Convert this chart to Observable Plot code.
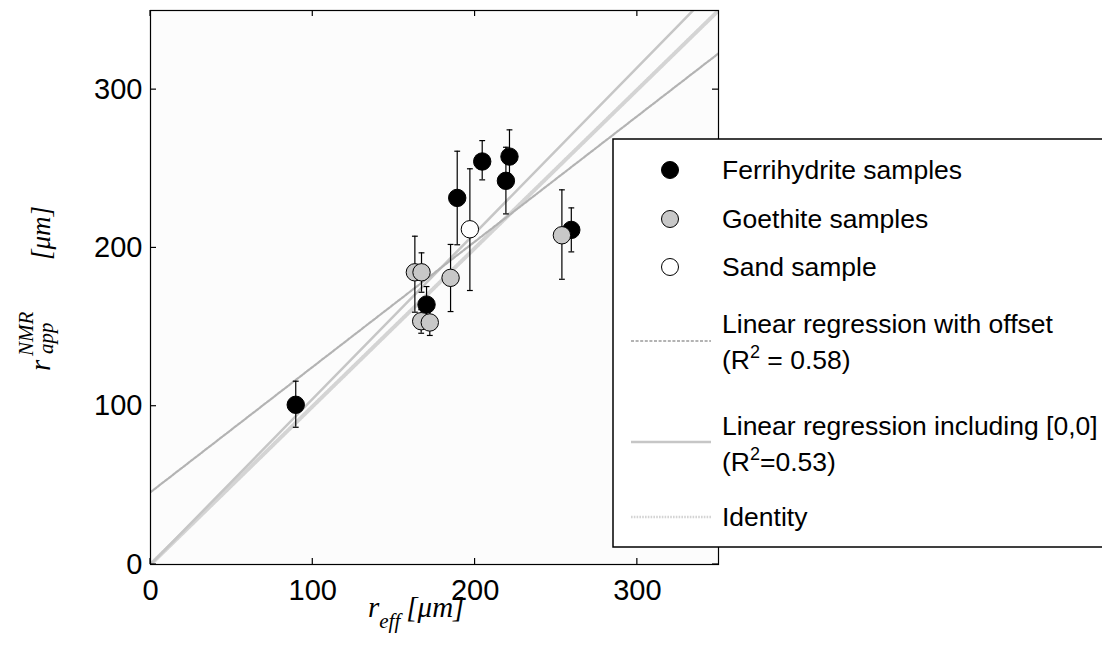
<!DOCTYPE html>
<html><head><meta charset="utf-8">
<script src="https://cdn.jsdelivr.net/npm/d3@7"></script>
<script src="https://cdn.jsdelivr.net/npm/@observablehq/plot@0.6"></script>
<style>
body{margin:0;background:#fff;}
#wrap{position:relative;width:1102px;height:671px;overflow:hidden;}
</style></head><body><div id="wrap"></div>
<script>
// Ferrihydrite samples (black)
const ferriX  = [89.5, 170.1, 189.0, 204.4, 219.0, 221.2, 259.3];
const ferriY  = [100.9, 164.2, 231.6, 254.6, 242.4, 257.7, 211.4];
const ferriLo = [86.7, 152.0, 202.0, 243.0, 221.5, 240.5, 197.5];
const ferriHi = [115.8, 175.6, 261.1, 267.8, 263.6, 274.6, 225.3];
// Goethite samples (grey)
const goeX  = [162.9, 167.0, 166.8, 172.1, 184.9, 253.5];
const goeY  = [184.6, 184.6, 153.7, 152.9, 181.1, 208.0];
const goeLo = [159.4, 172.0, 146.1, 144.7, 159.8, 180.2];
const goeHi = [207.4, 196.9, 161.0, 161.0, 202.2, 236.7];
// Sand sample (white)
const sandX  = [196.8];
const sandY  = [211.8];
const sandLo = [173.1];
const sandHi = [250.0];
// Fitted lines
const offsetIntercept = 45.7, offsetSlope = 0.792;   // R^2 = 0.58
const originSlope = 1.047;                          // R^2 = 0.53
const lineX = [0, 350];
const xTicks = [0, 100, 200, 300];
const yTicks = [0, 100, 200, 300];
const legendLabels = ["Ferrihydrite samples", "Goethite samples", "Sand sample",
  "Linear regression with offset", "Linear regression including [0,0]", "Identity"];

const rows = (X, Y, Lo, Hi, g) => X.map((x, i) => ({x, y: Y[i], lo: Lo[i], hi: Hi[i], g}));
const ferri = rows(ferriX, ferriY, ferriLo, ferriHi, "F");
const goe = rows(goeX, goeY, goeLo, goeHi, "G");
const sand = rows(sandX, sandY, sandLo, sandHi, "S");
const offsetLine = lineX.map(x => ({x, y: offsetIntercept + offsetSlope * x}));
const originLine = lineX.map(x => ({x, y: originSlope * x}));
const identLine = lineX.map(x => ({x, y: x}));

const capSymbol = {draw(ctx, size) { const w = Math.sqrt(size) / 2; ctx.moveTo(-w, 0); ctx.lineTo(w, 0); }};
const fillC = {F: "#000", G: "#c8c8c8", S: "#fff"};
const sty = {
  offset: {stroke: "#b3b3b3", width: 2.2, dash: "3,1.6"},
  origin: {stroke: "#c6c6c6", width: 2.5, dash: null},
  ident:  {stroke: "#d4d4d4", width: 4, dash: "1.6,1.2"}
};

function errMarks(data) {
  return [
    Plot.ruleX(data, {x: "x", y1: "lo", y2: "hi", stroke: "#000", strokeWidth: 1.2}),
    Plot.dot(data, {x: "x", y: "lo", symbol: capSymbol, r: 3.3, stroke: "#000", strokeWidth: 1.2}),
    Plot.dot(data, {x: "x", y: "hi", symbol: capSymbol, r: 3.3, stroke: "#000", strokeWidth: 1.2})
  ];
}
function dotMarks(data, fill) {
  return Plot.dot(data, {x: "x", y: "y", r: 8.7, fill, stroke: "#000", strokeWidth: 1});
}
const lineMark = (data, s) => Plot.line(data, {x: "x", y: "y", stroke: s.stroke, strokeWidth: s.width, strokeDasharray: s.dash, clip: true});

const chart = Plot.plot({
  width: 1102, height: 671,
  marginLeft: 150, marginRight: 384, marginTop: 10, marginBottom: 107,
  style: {fontFamily: "'Liberation Sans', Arial, sans-serif", background: "#fff"},
  x: {domain: [0, 350], label: null},
  y: {domain: [0, 350], label: null},
  marks: [
    Plot.frame({fill: "#fcfcfc"}),
    lineMark(identLine, sty.ident),
    lineMark(originLine, sty.origin),
    lineMark(offsetLine, sty.offset),
    ...errMarks(ferri), dotMarks(ferri, fillC.F),
    ...errMarks(goe), dotMarks(goe, fillC.G),
    ...errMarks(sand), dotMarks(sand, fillC.S),
    Plot.axisX(xTicks, {anchor: "bottom", tickSize: 0, tickPadding: 15, fontSize: 29, fill: "#000"}),
    Plot.axisY(yTicks, {anchor: "left", tickSize: 0, tickPadding: 8, fontSize: 29, fill: "#000"}),
    Plot.frame({stroke: "#000", strokeWidth: 1.2})
  ]
});
document.getElementById("wrap").appendChild(chart);

const svg = d3.select(chart);
const sx = chart.scale("x"), sy = chart.scale("y");
const [xl0, xl1] = sx.range, [yb, yt] = sy.range;
// inward ticks on all four sides
const tg = svg.append("g").attr("stroke", "#000").attr("stroke-width", 1.2);
for (const t of xTicks) {
  const px = sx.apply(t);
  tg.append("line").attr("x1", px).attr("x2", px).attr("y1", yb).attr("y2", yb - 6);
  tg.append("line").attr("x1", px).attr("x2", px).attr("y1", yt).attr("y2", yt + 6);
}
for (const t of yTicks) {
  const py = sy.apply(t);
  tg.append("line").attr("y1", py).attr("y2", py).attr("x1", xl0).attr("x2", xl0 + 6);
  tg.append("line").attr("y1", py).attr("y2", py).attr("x1", xl1).attr("x2", xl1 - 6);
}

const serif = "'Liberation Serif', 'Times New Roman', serif";
// x axis label
const xl = svg.append("text").attr("x", 368).attr("y", 617).attr("text-anchor", "start")
  .attr("font-family", serif).attr("font-style", "italic").attr("font-size", 29).attr("fill", "#000");
xl.append("tspan").text("r");
xl.append("tspan").attr("dy", 11).attr("font-size", 21).text("eff");
xl.append("tspan").attr("dy", -11).attr("dx", 6).text("[μm]");
// y axis label
const yg = svg.append("g").attr("transform", "translate(50,371) rotate(-90)").attr("text-anchor", "start")
  .attr("font-family", serif).attr("font-style", "italic").attr("fill", "#000");
yg.append("text").attr("x", 0).attr("y", 0).attr("font-size", 29).text("r");
yg.append("text").attr("x", 15).attr("y", -17).attr("font-size", 21).text("NMR");
yg.append("text").attr("x", 17).attr("y", 3).attr("font-size", 21).text("app");
yg.append("text").attr("x", 111).attr("y", 0).attr("font-size", 27).text("[μm]");

// legend
const lg = svg.append("g").attr("font-family", "'Liberation Sans', Arial, sans-serif")
  .attr("font-size", 26.5).attr("fill", "#000").attr("text-anchor", "start");
lg.append("rect").attr("x", 613).attr("y", 139).attr("width", 500).attr("height", 408)
  .attr("fill", "#fff").attr("stroke", "#000").attr("stroke-width", 1.5);
const tx = 722, mx = 670;
const dotRows = [[170, fillC.F, legendLabels[0]], [219, fillC.G, legendLabels[1]], [267, fillC.S, legendLabels[2]]];
for (const [cy, f, t] of dotRows) {
  lg.append("circle").attr("cx", mx).attr("cy", cy).attr("r", 8.5).attr("fill", f).attr("stroke", "#000");
  lg.append("text").attr("x", tx).attr("y", cy + 9).text(t);
}
function r2(y, val, spaced) {
  const t = lg.append("text").attr("x", tx).attr("y", y);
  t.append("tspan").text("(R");
  t.append("tspan").attr("dy", -11).attr("font-size", 18).text("2");
  t.append("tspan").attr("dy", 11).text(spaced ? " = " + val + ")" : "=" + val + ")");
}
const legLine = (y, s) => lg.append("line").attr("x1", 631).attr("x2", 711).attr("y1", y).attr("y2", y)
  .attr("stroke", s.stroke).attr("stroke-width", Math.min(s.width, 2.5)).attr("stroke-dasharray", s.dash);
lg.append("text").attr("x", tx).attr("y", 333).text(legendLabels[3]);
r2(369, "0.58", true);
legLine(341, sty.offset);
lg.append("text").attr("x", tx).attr("y", 435).text(legendLabels[4]);
r2(471, "0.53", false);
legLine(442, sty.origin);
lg.append("text").attr("x", tx).attr("y", 526).text(legendLabels[5]);
legLine(517, sty.ident);
</script></body></html>
